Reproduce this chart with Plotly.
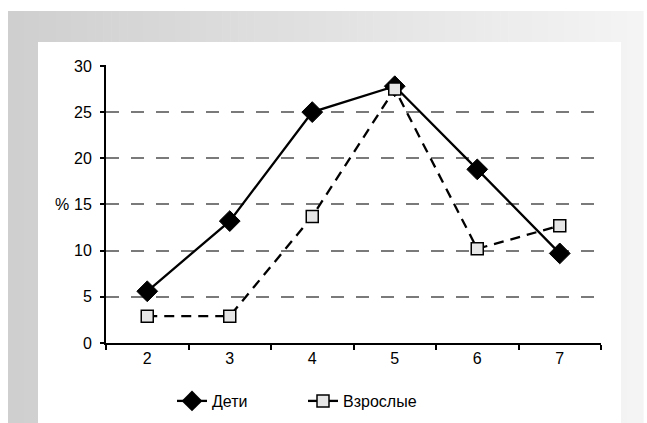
import plotly.graph_objects as go

# Age groups on the x axis and share (%) for each series
ages = ["2", "3", "4", "5", "6", "7"]
children = [5.6, 13.2, 25.0, 27.8, 18.8, 9.7]
adults = [2.9, 2.9, 13.7, 27.5, 10.2, 12.7]
y_ticks = [0, 5, 10, 15, 20, 25, 30]

W, H = 647, 423
ML, MR, MT, MB = 106, 46, 65, 80
PW, PH = W - ML - MR, H - MT - MB

FONT = "Liberation Sans, Arial, sans-serif"
FS = 16


def px_x(px):
    return (px - ML) / PW


def px_y(py):
    return (H - MB - py) / PH


fig = go.Figure()

# data traces
fig.add_trace(go.Scatter(
    x=ages, y=children, mode="lines+markers", name="Дети", showlegend=False,
    line=dict(color="black", width=2.3),
    marker=dict(symbol="diamond", size=16, color="black",
                line=dict(color="black", width=1)),
))
fig.add_trace(go.Scatter(
    x=ages, y=adults, mode="lines+markers", name="Взрослые", showlegend=False,
    line=dict(color="black", width=2.3, dash="10px,7px"),
    marker=dict(symbol="square", size=12, color="#e6e6e6",
                line=dict(color="black", width=1.5)),
))

# legend entries (solid sample lines for both series)
fig.add_trace(go.Scatter(
    x=[None], y=[None], mode="lines+markers", name="Дети",
    line=dict(color="black", width=2.3),
    marker=dict(symbol="diamond", size=16, color="black"),
))
fig.add_trace(go.Scatter(
    x=[None], y=[None], mode="lines+markers", name="Взрослые",
    line=dict(color="black", width=2.3, dash="solid"),
    marker=dict(symbol="square", size=12, color="#e6e6e6",
                line=dict(color="black", width=1.5)),
))

# gray gradient frame behind a white panel
shapes = []
x0, x1, y0, y1 = 8, 643, 11, 423
n = 80
c0, c1 = 207, 244
for i in range(n):
    a = x0 + (x1 - x0) * i / n
    b = x0 + (x1 - x0) * (i + 1) / n + 0.6
    c = round(c0 + (c1 - c0) * i / (n - 1))
    shapes.append(dict(
        type="rect", xref="paper", yref="paper", layer="below",
        x0=px_x(a), x1=px_x(b), y0=px_y(y1), y1=px_y(y0),
        fillcolor=f"rgb({c},{c},{c})", line=dict(width=0),
    ))
shapes.append(dict(
    type="rect", xref="paper", yref="paper", layer="below",
    x0=px_x(38), x1=px_x(621), y0=px_y(423), y1=px_y(42),
    fillcolor="white", line=dict(width=0),
))

fig.update_layout(
    width=W, height=H,
    margin=dict(l=ML, r=MR, t=MT, b=MB, autoexpand=False),
    paper_bgcolor="white",
    plot_bgcolor="rgba(0,0,0,0)",
    font=dict(family=FONT, size=FS, color="black"),
    shapes=shapes,
    showlegend=True,
    legend=dict(
        orientation="h", x=px_x(172), xanchor="left",
        y=px_y(401), yanchor="middle",
        bgcolor="rgba(0,0,0,0)", font=dict(family=FONT, size=FS),
        entrywidth=86, entrywidthmode="pixels",
    ),
    annotations=[dict(
        text="%", xref="paper", yref="y", x=px_x(62), y=15,
        xanchor="center", yanchor="middle", showarrow=False,
        font=dict(family=FONT, size=FS),
    )],
)

fig.update_xaxes(
    type="category", categoryorder="array", categoryarray=ages,
    range=[-0.5, 5.5], tickson="boundaries",
    showline=True, linecolor="black", linewidth=2,
    ticks="outside", ticklen=5, tickwidth=1.5, tickcolor="black",
    showgrid=False, zeroline=False, fixedrange=True,
    tickfont=dict(family=FONT, size=FS),
)
fig.update_yaxes(
    range=[0, 30.1], tickvals=y_ticks,
    showline=True, linecolor="black", linewidth=2,
    ticks="outside", ticklen=4, tickwidth=1.5, tickcolor="black",
    showgrid=True, gridcolor="#7a7a7a", gridwidth=1.6, griddash="13px,12px",
    zeroline=False, ticklabelstandoff=5,
    tickfont=dict(family=FONT, size=FS),
)

fig.write_html("out.html")
